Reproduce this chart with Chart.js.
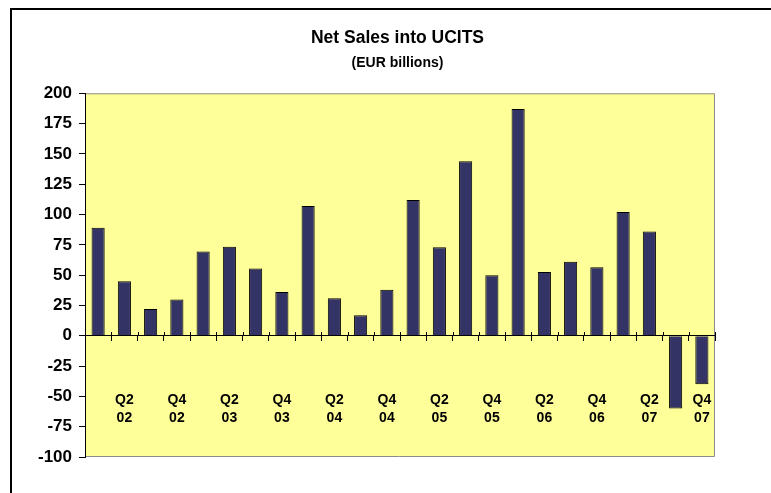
<!DOCTYPE html>
<html>
<head>
<meta charset="utf-8">
<script src="https://cdn.jsdelivr.net/npm/chart.js@4/dist/chart.umd.min.js"></script>
<style>
  html, body { margin:0; padding:0; overflow:hidden; background:#fff; width:771px; height:493px; }
  #wrap { position:absolute; left:0; top:0; }
  #frame { position:absolute; left:10px; top:8px; width:900px; height:600px; border:2px solid #000; pointer-events:none; }
</style>
</head>
<body>
<div id="wrap"><canvas id="c" width="795" height="493" style="width:795px;height:493px"></canvas></div>
<div id="frame"></div>
<script>
// ---- data ----
const quarters = [
  'Q1 02','Q2 02','Q3 02','Q4 02',
  'Q1 03','Q2 03','Q3 03','Q4 03',
  'Q1 04','Q2 04','Q3 04','Q4 04',
  'Q1 05','Q2 05','Q3 05','Q4 05',
  'Q1 06','Q2 06','Q3 06','Q4 06',
  'Q1 07','Q2 07','Q3 07','Q4 07'
];
const netSales = [
  89, 45, 22, 30,
  69.5, 73.5, 55.5, 36,
  107, 31, 17, 38,
  112, 73, 144, 50,
  187, 52.5, 61, 56.5,
  102, 86, -60, -40
];
const shownQuarters = ['Q2', 'Q4'];
const yTicks = { min: -100, max: 200, step: 25 };
const titleText = 'Net Sales into UCITS';
const subtitleText = '(EUR billions)';

const FONT = "'Liberation Sans', Arial, sans-serif";

const plotArea = {
  id: 'plotArea',
  beforeDraw(chart) {
    const { ctx, chartArea: a } = chart;
    ctx.save();
    ctx.fillStyle = '#FFFF99';
    ctx.fillRect(a.left, a.top, a.right - a.left, a.bottom - a.top);
    ctx.strokeStyle = '#8c8c8c';
    ctx.lineWidth = 1;
    ctx.beginPath();
    ctx.moveTo(a.left, a.top + 0.5);
    ctx.lineTo(a.right - 0.5, a.top + 0.5);
    ctx.lineTo(a.right - 0.5, a.bottom - 0.5);
    ctx.lineTo(a.left, a.bottom - 0.5);
    ctx.stroke();
    ctx.restore();
  },
  afterDraw(chart) {
    // upper halves of the category tick marks (they cross the zero line)
    const { ctx } = chart;
    const xs = chart.scales.x, ys = chart.scales.y;
    const y0 = Math.round(ys.getPixelForValue(0));
    ctx.save();
    ctx.strokeStyle = '#000';
    ctx.lineWidth = 1;
    ctx.beginPath();
    for (let i = 0; i <= quarters.length; i++) {
      const x = Math.round(xs.getPixelForValue(i - 0.5)) + 0.5;
      ctx.moveTo(x, y0 - 4);
      ctx.lineTo(x, y0);
    }
    ctx.stroke();
    ctx.restore();
  }
};

new Chart(document.getElementById('c'), {
  type: 'bar',
  data: {
    labels: quarters,
    datasets: [{
      data: netSales,
      backgroundColor: '#333366',
      borderColor: '#000000',
      borderWidth: 1,
      barPercentage: 0.5,
      categoryPercentage: 1.0
    }]
  },
  options: {
    responsive: false,
    animation: false,
    devicePixelRatio: 1,
    layout: { padding: { left: 0, right: 0, top: 0, bottom: 36 } },
    plugins: {
      legend: { display: false },
      tooltip: { enabled: false },
      title: {
        display: true, text: titleText, color: '#000',
        font: { family: FONT, size: 17.5, weight: 'bold' },
        padding: { top: 27.5, bottom: 6 }
      },
      subtitle: {
        display: true, text: subtitleText, color: '#000',
        font: { family: FONT, size: 14, weight: 'bold' },
        padding: { top: 0, bottom: 22 }
      }
    },
    scales: {
      x: {
        type: 'category',
        position: { y: 0 },
        offset: true,
        grid: {
          display: true, drawOnChartArea: false, drawTicks: true,
          tickLength: 5, color: '#000', offset: true, lineWidth: 1
        },
        border: { display: true, color: '#000', width: 1 },
        ticks: {
          autoSkip: false, maxRotation: 0, minRotation: 0,
          color: '#000', padding: 50,
          font: { family: FONT, size: 14, weight: 'bold', lineHeight: 1.3 },
          callback: function (value) {
            const parts = this.getLabelForValue(value).split(' ');
            return shownQuarters.includes(parts[0]) ? parts : '';
          }
        }
      },
      y: {
        position: 'left',
        min: yTicks.min, max: yTicks.max,
        afterFit(scale) { scale.width = 85; },
        grid: {
          display: true, drawOnChartArea: false, drawTicks: true,
          tickLength: 6, color: '#000', lineWidth: 1
        },
        border: { display: true, color: '#000', width: 1 },
        ticks: {
          stepSize: yTicks.step, color: '#000', padding: 7,
          font: { family: FONT, size: 17, weight: 'bold' }
        }
      },
      yRightSpace: {
        type: 'linear',
        position: 'right',
        min: yTicks.min, max: yTicks.max,
        afterFit(scale) { scale.width = 80; },
        grid: { display: false },
        border: { display: false },
        ticks: { display: false }
      }
    }
  },
  plugins: [plotArea]
});
</script>
</body>
</html>
